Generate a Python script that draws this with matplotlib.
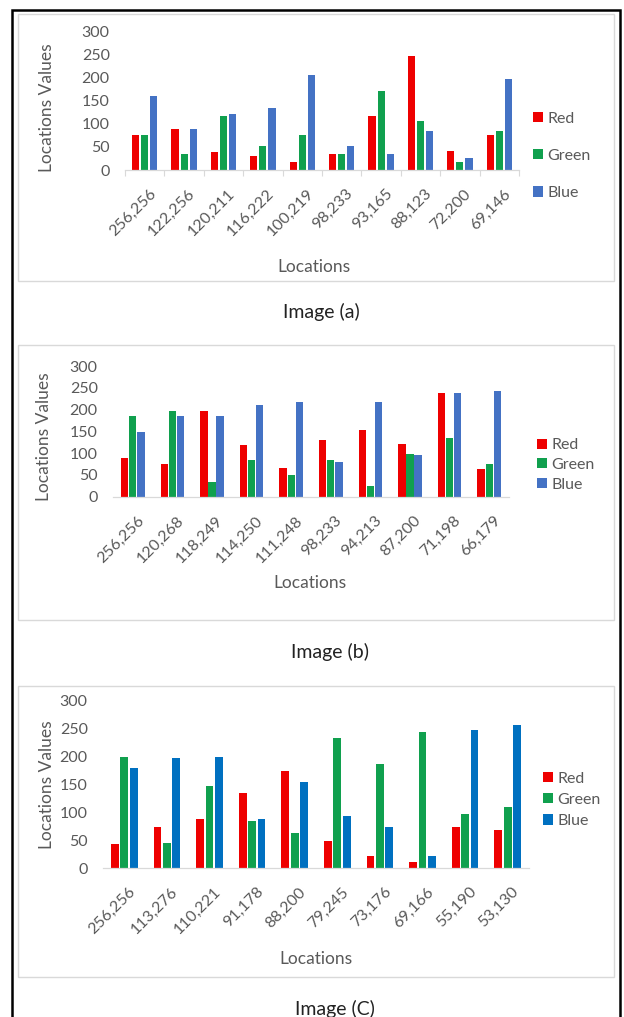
import matplotlib
matplotlib.use("Agg")
import matplotlib.pyplot as plt
import matplotlib.transforms as mtransforms
from matplotlib.patches import Rectangle
import numpy as np

plt.rcParams['font.family'] = ['Lato', 'DejaVu Sans']

W, H = 624, 1017
DPI = 100

series_names = ["Red", "Green", "Blue"]

# Image (a)
locations_a = ["256,256", "122,256", "120,211", "116,222", "100,219",
               "98,233", "93,165", "88,123", "72,200", "69,146"]
red_a = [75, 88, 38, 31, 18, 34, 118, 247, 41, 75]
green_a = [75, 34, 118, 51, 75, 34, 171, 107, 17, 84]
blue_a = [160, 88, 121, 134, 207, 51, 34, 84, 27, 197]

# Image (b)
locations_b = ["256,256", "120,268", "118,249", "114,250", "111,248",
               "98,233", "94,213", "87,200", "71,198", "66,179"]
red_b = [88, 74, 197, 119, 67, 131, 152, 120, 237, 64]
green_b = [186, 197, 34, 84, 49, 84, 25, 99, 134, 74]
blue_b = [148, 186, 186, 211, 218, 80, 218, 95, 237, 243]

# Image (C)
locations_c = ["256,256", "113,276", "110,221", "91,178", "88,200",
               "79,245", "73,176", "69,166", "55,190", "53,130"]
red_c = [42, 73, 87, 134, 174, 49, 21, 10, 73, 68]
green_c = [199, 45, 147, 84, 62, 232, 186, 243, 96, 109]
blue_c = [178, 197, 199, 87, 153, 93, 73, 21, 246, 255]

y_ticks = [0, 50, 100, 150, 200, 250, 300]

RED = "#EE0000"
GREEN = "#10A04E"
BLUE_LIGHT = "#4472C4"
BLUE_DARK = "#0070C0"
TEXT = "#595959"

fig = plt.figure(figsize=(W / DPI, H / DPI), dpi=DPI)
fig.patch.set_facecolor("white")


def fx(px):
    return px / W


def fy(py):
    return 1 - py / H


# outer frame and the three chart boxes
fig.add_artist(Rectangle((fx(12), fy(1030)), fx(620) - fx(12), fy(10) - fy(1030),
                         transform=fig.transFigure, fill=False,
                         edgecolor="black", linewidth=1.8))
for top, bottom in [(14, 281), (345, 620), (686, 977)]:
    fig.add_artist(Rectangle((fx(18), fy(bottom)), fx(614) - fx(18), fy(top) - fy(bottom),
                             transform=fig.transFigure, fill=False,
                             edgecolor="#D9D9D9", linewidth=1.0))

panels = [
    dict(cats=locations_a, vals=[red_a, green_a, blue_a], blue=BLUE_LIGHT,
         x0=125, x1=519, ytop=31.7, ybot=170, step=0.23, width=0.18, ticks=True,
         ylab=(47, 108), xlab=(314, 267), leg=(533, 156), legsp=1.45,
         caption="Image (a)", cap=(321, 312)),
    dict(cats=locations_b, vals=[red_b, green_b, blue_b], blue=BLUE_LIGHT,
         x0=113, x1=509, ytop=366, ybot=496.7, step=0.205, width=0.185, ticks=False,
         ylab=(44, 437), xlab=(310, 583), leg=(537, 465), legsp=0.35,
         caption="Image (b)", cap=(330, 652)),
    dict(cats=locations_c, vals=[red_c, green_c, blue_c], blue=BLUE_DARK,
         x0=103, x1=529, ytop=700, ybot=868, step=0.22, width=0.18, ticks=False,
         ylab=(47, 785), xlab=(316, 959), leg=(543, 800), legsp=0.45,
         caption="Image (C)", cap=(335, 1009)),
]

# nudge the slanted category labels so their ends sit under the group centre
label_shift = mtransforms.ScaledTranslation(4 / DPI, 0, fig.dpi_scale_trans)

for p in panels:
    ax = fig.add_axes([fx(p["x0"]), fy(p["ybot"]), fx(p["x1"]) - fx(p["x0"]),
                       fy(p["ytop"]) - fy(p["ybot"])])
    x = np.arange(len(p["cats"]))
    colors = [RED, GREEN, p["blue"]]
    for i, (name, vals, col) in enumerate(zip(series_names, p["vals"], colors)):
        ax.bar(x + (i - 1) * p["step"], vals, width=p["width"], color=col,
               label=name, linewidth=0)
    ax.set_xlim(-0.5, len(p["cats"]) - 0.5)
    ax.set_ylim(0, 300)
    ax.set_yticks(y_ticks)
    ax.set_yticklabels([str(t) for t in y_ticks], fontsize=11.5, color=TEXT)
    ax.tick_params(axis="y", length=0, pad=11)
    ax.set_xticks(x)
    ax.set_xticklabels(p["cats"], rotation=45, ha="right", va="top",
                       rotation_mode="anchor", fontsize=11.5, color=TEXT)
    ax.tick_params(axis="x", length=0, pad=12)
    for lbl in ax.get_xticklabels():
        lbl.set_transform(lbl.get_transform() + label_shift)
    if p["ticks"]:
        ax.set_xticks(np.arange(-0.5, len(p["cats"]), 1.0), minor=True)
        ax.tick_params(axis="x", which="minor", length=4, color="#D9D9D9", width=0.8)
    for s in ["top", "right", "left"]:
        ax.spines[s].set_visible(False)
    ax.spines["bottom"].set_color("#D9D9D9")
    ax.spines["bottom"].set_linewidth(0.9)
    ax.set_facecolor("none")

    ax.set_ylabel("Locations Values", fontsize=12.5, color=TEXT, va="center")
    ax.yaxis.set_label_coords(fx(p["ylab"][0]), fy(p["ylab"][1]), transform=fig.transFigure)
    ax.set_xlabel("Locations", fontsize=12.5, color=TEXT, va="center")
    ax.xaxis.set_label_coords(fx(p["xlab"][0]), fy(p["xlab"][1]), transform=fig.transFigure)

    leg = ax.legend(loc="center left", bbox_to_anchor=(fx(p["leg"][0]), fy(p["leg"][1])),
                    bbox_transform=fig.transFigure, frameon=False, fontsize=11.5,
                    handlelength=0.6, handleheight=0.6, handletextpad=0.3,
                    labelspacing=p["legsp"], borderpad=0, borderaxespad=0)
    for t in leg.get_texts():
        t.set_color(TEXT)

    fig.text(fx(p["cap"][0]), fy(p["cap"][1]), p["caption"], ha="center", va="center",
             fontsize=14, color="#222222")

fig.savefig("out.png", dpi=DPI, facecolor="white")
